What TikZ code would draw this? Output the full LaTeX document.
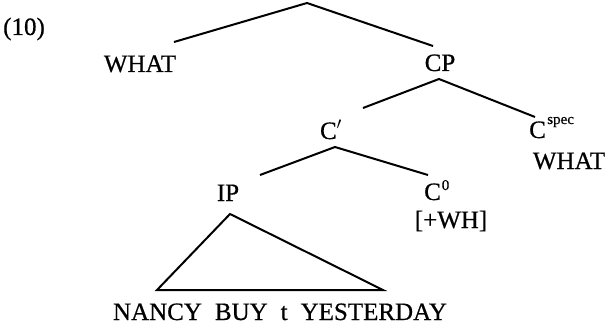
\documentclass[tikz,border=0pt]{standalone}
\usepackage{fontspec}
\setmainfont{Liberation Serif}
\newcommand{\gap}{\hspace{13pt}}
\begin{document}
\begin{tikzpicture}[x=1pt,y=-1pt,
  lbl/.style={inner sep=0pt,anchor=base,font=\fontsize{25}{25}\selectfont\addfontfeatures{FakeBold=0.6}},
  sup/.style={inner sep=0pt,anchor=base west,font=\fontsize{15}{15}\selectfont\addfontfeatures{FakeBold=0.6}},
  branch/.style={line width=2pt,line join=miter,line cap=butt}]
\useasboundingbox (0,0) rectangle (609,331);

% example number
\node[lbl,anchor=base west] (num) at (3,35) {(10)};

% tree joints and branch ends
\coordinate (root)  at (307,3);
\coordinate (rootL) at (174,42);
\coordinate (rootR) at (433,46);
\coordinate (cp)    at (439,79);
\coordinate (cpL)   at (363,108);
\coordinate (cpR)   at (535,117);
\coordinate (cbar)  at (335,147);
\coordinate (cbarL) at (260,175);
\coordinate (cbarR) at (428,175);
\coordinate (ip)    at (230,214);
\coordinate (ipL)   at (157,290);
\coordinate (ipR)   at (383,290);

% labels
\node[lbl] (what1) at (140,72) {WHAT};
\node[lbl] (cpl)   at (440,71) {CP};
\node[lbl] (cbl)   at (331,139) {C$'$};
\node[lbl,anchor=base west] (cspec) at (529,138) {C};
\node[sup] (spec) at (cspec.base east) [yshift=14pt,xshift=1pt] {spec};
\node[lbl] (what2) at (569,169) {WHAT};
\node[lbl] (ipl)   at (228,201) {IP};
\node[lbl,anchor=base west] (czero) at (424,200) {C};
\node[sup] (zero) at (czero.base east) [yshift=10pt,xshift=0.5pt] {0};
\node[lbl] (wh)    at (451,228) {[+WH]};
\node[lbl] (yield) at (280,320) {NANCY\gap BUY\gap t\gap YESTERDAY};

% branches
\draw[branch] (rootL) -- (root) -- (rootR);
\draw[branch] (cpL) -- (cp) -- (cpR);
\draw[branch] (cbarL) -- (cbar) -- (cbarR);
\draw[branch] (ip) -- (ipL) -- (ipR) -- cycle;
\end{tikzpicture}
\end{document}
